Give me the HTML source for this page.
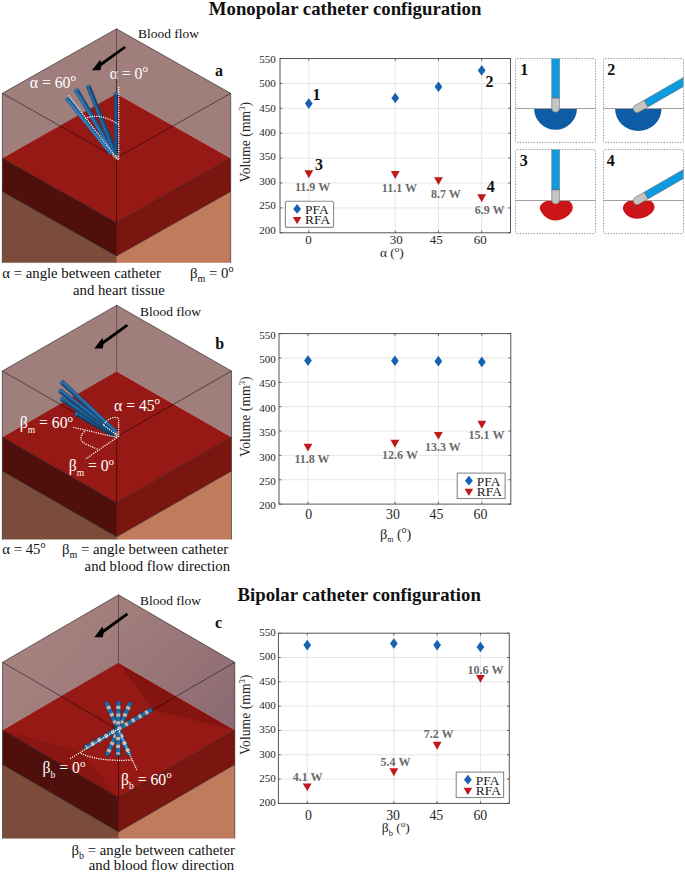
<!DOCTYPE html>
<html><head><meta charset="utf-8"><style>
html,body{margin:0;padding:0;background:#fff;}
body{width:685px;height:874px;overflow:hidden;}
svg{display:block;font-family:"Liberation Serif", serif;}
</style></head><body>
<svg width="685" height="874" viewBox="0 0 685 874">

<text x="345.1" y="15.1" font-size="18.8" fill="#111" font-weight="bold" text-anchor="middle" >Monopolar catheter configuration</text>
<text x="359.2" y="600.7" font-size="18.8" fill="#111" font-weight="bold" text-anchor="middle" >Bipolar catheter configuration</text>
<polygon points="116.5,28.8 2.3,93.3 2.3,158.3 117.5,94.3 117.5,29.8" fill="#a07e7c"/>
<polygon points="116.5,28.8 230.7,93.3 230.7,158.3 116.5,93.8" fill="#a07e7c"/>
<polygon points="116.5,93.8 2.3,158.3 116.5,222.8 230.7,158.3" fill="#961915"/>

<polygon points="2.3,158.3 116.5,222.8 117.5,222.8 117.5,256.0 116.5,256.0 2.3,191.5" fill="#4f100d"/>
<polygon points="230.7,158.3 116.5,222.8 116.5,256.0 230.7,191.5" fill="#7a1510"/>
<polygon points="2.3,191.5 116.5,256.0 117.5,256.0 117.5,262.8 2.3,262.8" fill="#7b4c3a"/>
<polygon points="230.7,191.5 116.5,256.0 116.5,262.8 230.7,262.8" fill="#c07b5c"/>
<polyline points="2.3,262.8 2.3,93.3 116.5,28.8 230.7,93.3 230.7,262.8" stroke="#000" stroke-opacity="0.62" stroke-width="0.8" fill="none"/>
<polyline points="2.3,93.3 116.5,157.8 230.7,93.3" stroke="#000" stroke-opacity="0.62" stroke-width="0.8" fill="none"/>
<line x1="116.5" y1="28.8" x2="116.5" y2="93.8" stroke="#000" stroke-opacity="0.45" stroke-width="0.8"/>
<line x1="116.5" y1="157.8" x2="116.5" y2="222.8" stroke="#000" stroke-opacity="0.62" stroke-width="0.8" fill="none"/>
<polyline points="2.3,158.3 116.5,222.8 230.7,158.3" stroke="#000" stroke-opacity="0.62" stroke-width="0.8" fill="none"/>
<polyline points="2.3,191.5 116.5,256.0 230.7,191.5" stroke="#000" stroke-opacity="0.62" stroke-width="0.8" fill="none"/>
<polygon points="111.5,151.5 118,151.5 118.5,158.5 115.5,159.5 112,155.5" fill="#8a7c79"/>
<line x1="67.5" y1="98.9" x2="111.6" y2="153.6" stroke="#1b5282" stroke-width="4.7" stroke-linecap="butt"/><line x1="67.06" y1="99.25" x2="111.16" y2="153.95" stroke="#2a70aa" stroke-width="2.91"/><line x1="66.70" y1="99.55" x2="110.80" y2="154.25" stroke="#3c8ac6" stroke-width="1.03"/><ellipse cx="67.50" cy="98.90" rx="1.32" ry="2.35" transform="rotate(51.1 67.50 98.90)" fill="#2a78b6" stroke="#1b5282" stroke-width="0.5"/>
<line x1="76.6" y1="90.2" x2="113.0" y2="152.0" stroke="#184b78" stroke-width="4.7" stroke-linecap="butt"/><line x1="76.11" y1="90.49" x2="112.51" y2="152.29" stroke="#2467a0" stroke-width="2.91"/><line x1="75.71" y1="90.72" x2="112.11" y2="152.52" stroke="#3580bd" stroke-width="1.03"/><ellipse cx="76.60" cy="90.20" rx="1.32" ry="2.35" transform="rotate(59.5 76.60 90.20)" fill="#2a78b6" stroke="#184b78" stroke-width="0.5"/>
<line x1="88.5" y1="86.6" x2="114.8" y2="152.0" stroke="#15426b" stroke-width="4.7" stroke-linecap="butt"/><line x1="87.98" y1="86.81" x2="114.28" y2="152.21" stroke="#1f5c92" stroke-width="2.91"/><line x1="87.54" y1="86.99" x2="113.84" y2="152.39" stroke="#2a70aa" stroke-width="1.03"/><ellipse cx="88.50" cy="86.60" rx="1.32" ry="2.35" transform="rotate(68.1 88.50 86.60)" fill="#2a78b6" stroke="#15426b" stroke-width="0.5"/>
<line x1="116.2" y1="93.6" x2="116.2" y2="154.8" stroke="#143a5e" stroke-width="4.2" stroke-linecap="butt"/><line x1="115.70" y1="93.60" x2="115.70" y2="154.80" stroke="#1c4c7a" stroke-width="2.60"/><line x1="115.28" y1="93.60" x2="115.28" y2="154.80" stroke="#235c90" stroke-width="0.92"/><ellipse cx="116.20" cy="93.60" rx="1.18" ry="2.10" transform="rotate(90.0 116.20 93.60)" fill="#2a8fd6" stroke="#143a5e" stroke-width="0.5"/>
<line x1="118.7" y1="86.7" x2="118.7" y2="160" stroke="#fff" stroke-width="1.25" stroke-dasharray="1.2 1.1" fill="none"/>
<line x1="68.4" y1="95.4" x2="118.2" y2="160" stroke="#fff" stroke-width="1.25" stroke-dasharray="1.2 1.1" fill="none"/>
<path d="M85,118.5 Q100,112 118.5,124.5" stroke="#fff" stroke-width="1.25" stroke-dasharray="1.2 1.1" fill="none"/>
<text x="29.8" y="87.6" font-size="15.7" fill="#fff" font-weight="normal" text-anchor="start" >α = 60<tspan font-size="11" dy="-6.5">o</tspan></text>
<text x="109.7" y="78.5" font-size="15.7" fill="#fff" font-weight="normal" text-anchor="start" >α = 0<tspan font-size="11" dy="-6.5">o</tspan></text>
<line x1="116.5" y1="60" x2="116.5" y2="93" stroke="#000" stroke-opacity="0.45" stroke-width="0.8"/>
<polygon points="92.00,70.30 100.20,59.70 101.00,62.60 124.30,45.90 125.90,48.10 101.30,66.00 100.50,70.30" fill="#000"/>
<text x="138" y="38.0" font-size="13.45" fill="#111" font-weight="normal" text-anchor="start" >Blood flow</text>
<text x="215.0" y="75.8" font-size="16" fill="#111" font-weight="bold" text-anchor="start" >a</text>
<text x="2.3" y="277.5" font-size="14.75" fill="#111" font-weight="normal" text-anchor="start" >α = angle between catheter</text>
<text x="73.0" y="294.5" font-size="14.75" fill="#111" font-weight="normal" text-anchor="start" >and heart tissue</text>
<text x="190.0" y="277.5" font-size="14.75" fill="#111" font-weight="normal" text-anchor="start" >β<tspan font-size="10" dy="4">m</tspan><tspan dy="-4"> = 0</tspan><tspan font-size="10" dy="-6">o</tspan></text>
<polygon points="116.7,305.2 2.3,371.0 2.3,437.2 117.7,371.9 117.7,306.2" fill="#a07e7c"/>
<polygon points="116.7,305.2 231.5,371.0 231.5,437.2 116.7,371.4" fill="#a07e7c"/>
<polygon points="116.7,371.4 2.3,437.2 116.7,502.99999999999994 231.5,437.2" fill="#961915"/>

<polygon points="2.3,437.2 116.7,502.99999999999994 117.7,502.99999999999994 117.7,536.8 116.7,536.8 2.3,471.0" fill="#4f100d"/>
<polygon points="231.5,437.2 116.7,502.99999999999994 116.7,536.8 231.5,471.0" fill="#7a1510"/>
<polygon points="2.3,471.0 116.7,536.8 117.7,536.8 117.7,539.6 2.3,539.6" fill="#7b4c3a"/>
<polygon points="231.5,471.0 116.7,536.8 116.7,539.6 231.5,539.6" fill="#c07b5c"/>
<polyline points="2.3,539.6 2.3,371.0 116.7,305.2 231.5,371.0 231.5,539.6" stroke="#000" stroke-opacity="0.62" stroke-width="0.8" fill="none"/>
<polyline points="2.3,371.0 116.7,436.79999999999995 231.5,371.0" stroke="#000" stroke-opacity="0.62" stroke-width="0.8" fill="none"/>
<line x1="116.7" y1="305.2" x2="116.7" y2="371.4" stroke="#000" stroke-opacity="0.45" stroke-width="0.8"/>
<line x1="116.7" y1="436.79999999999995" x2="116.7" y2="502.99999999999994" stroke="#000" stroke-opacity="0.62" stroke-width="0.8" fill="none"/>
<polyline points="2.3,437.2 116.7,502.99999999999994 231.5,437.2" stroke="#000" stroke-opacity="0.62" stroke-width="0.8" fill="none"/>
<polyline points="2.3,471.0 116.7,536.8 231.5,471.0" stroke="#000" stroke-opacity="0.62" stroke-width="0.8" fill="none"/>
<line x1="76.3" y1="413.6" x2="114.5" y2="435.5" stroke="#123a5e" stroke-width="4.7" stroke-linecap="butt"/><line x1="76.58" y1="413.11" x2="114.78" y2="435.01" stroke="#1b5486" stroke-width="2.91"/><line x1="76.81" y1="412.70" x2="115.01" y2="434.60" stroke="#25679f" stroke-width="1.03"/><ellipse cx="76.30" cy="413.60" rx="1.32" ry="2.35" transform="rotate(29.8 76.30 413.60)" fill="#2a78b6" stroke="#123a5e" stroke-width="0.5"/>
<line x1="61.8" y1="398.9" x2="115.0" y2="434.5" stroke="#143f66" stroke-width="4.7" stroke-linecap="butt"/><line x1="62.11" y1="398.43" x2="115.31" y2="434.03" stroke="#1f5c92" stroke-width="2.91"/><line x1="62.38" y1="398.04" x2="115.58" y2="433.64" stroke="#2b70aa" stroke-width="1.03"/><ellipse cx="61.80" cy="398.90" rx="1.32" ry="2.35" transform="rotate(33.8 61.80 398.90)" fill="#2a78b6" stroke="#143f66" stroke-width="0.5"/>
<line x1="60.2" y1="390.8" x2="115.5" y2="433.5" stroke="#15426b" stroke-width="4.7" stroke-linecap="butt"/><line x1="60.54" y1="390.35" x2="115.84" y2="433.05" stroke="#20609a" stroke-width="2.91"/><line x1="60.83" y1="389.98" x2="116.13" y2="432.68" stroke="#2d76b2" stroke-width="1.03"/><ellipse cx="60.20" cy="390.80" rx="1.32" ry="2.35" transform="rotate(37.7 60.20 390.80)" fill="#2a78b6" stroke="#15426b" stroke-width="0.5"/>
<line x1="62.1" y1="382.3" x2="116.0" y2="432.5" stroke="#16456f" stroke-width="4.7" stroke-linecap="butt"/><line x1="62.48" y1="381.89" x2="116.38" y2="432.09" stroke="#22649e" stroke-width="2.91"/><line x1="62.80" y1="381.54" x2="116.70" y2="431.74" stroke="#317bb8" stroke-width="1.03"/><ellipse cx="62.10" cy="382.30" rx="1.32" ry="2.35" transform="rotate(43.0 62.10 382.30)" fill="#2a78b6" stroke="#16456f" stroke-width="0.5"/>
<polygon points="113.5,433 117.5,432 118.5,437 116,438.5" fill="#8a7c79"/>
<line x1="118.6" y1="437" x2="118.6" y2="417.9" stroke="#fff" stroke-width="1.25" stroke-dasharray="1.2 1.1" fill="none"/>
<path d="M103.4,425 Q110,415.5 118.6,418" stroke="#fff" stroke-width="1.25" stroke-dasharray="1.2 1.1" fill="none"/>
<line x1="103.6" y1="425.2" x2="117.2" y2="435.2" stroke="#fff" stroke-width="1.25" stroke-dasharray="1.2 1.1" fill="none"/>
<line x1="117" y1="437.5" x2="73" y2="427.2" stroke="#fff" stroke-width="1.25" stroke-dasharray="1.2 1.1" fill="none"/>
<line x1="117" y1="437.5" x2="85.9" y2="458.8" stroke="#fff" stroke-width="1.25" stroke-dasharray="1.2 1.1" fill="none"/>
<path d="M84.7,431.2 Q76,440 87.1,444.7 T97.6,449.4" stroke="#fff" stroke-width="1.25" stroke-dasharray="1.2 1.1" fill="none"/>
<text x="19.8" y="428.0" font-size="15.7" fill="#fff" font-weight="normal" text-anchor="start" >β<tspan font-size="9.5" dy="4.5">m</tspan><tspan dy="-4.5"> = 60</tspan><tspan font-size="11" dy="-6.5">o</tspan></text>
<text x="114.0" y="410.6" font-size="15.7" fill="#fff" font-weight="normal" text-anchor="start" >α = 45<tspan font-size="11" dy="-6.5">o</tspan></text>
<text x="68.7" y="471.1" font-size="15.7" fill="#fff" font-weight="normal" text-anchor="start" >β<tspan font-size="9.5" dy="4.5">m</tspan><tspan dy="-4.5"> = 0</tspan><tspan font-size="11" dy="-6.5">o</tspan></text>
<polygon points="94.20,348.50 102.40,337.90 103.20,340.80 126.50,324.10 128.10,326.30 103.50,344.20 102.70,348.50" fill="#000"/>
<text x="140" y="316.4" font-size="13.45" fill="#111" font-weight="normal" text-anchor="start" >Blood flow</text>
<text x="215.2" y="348.8" font-size="16" fill="#111" font-weight="bold" text-anchor="start" >b</text>
<text x="2.3" y="554.3" font-size="14.75" fill="#111" font-weight="normal" text-anchor="start" >α = 45<tspan font-size="10" dy="-6">o</tspan></text>
<text x="62.0" y="554.3" font-size="14.75" fill="#111" font-weight="normal" text-anchor="start" >β<tspan font-size="10" dy="4">m</tspan><tspan dy="-4"> = angle between catheter</tspan></text>
<text x="84.6" y="571" font-size="14.75" fill="#111" font-weight="normal" text-anchor="start" >and blood flow direction</text>
<defs><linearGradient id="gcl" gradientUnits="userSpaceOnUse" x1="10" y1="640" x2="110" y2="720"><stop offset="0" stop-color="#a6827f"/><stop offset="1" stop-color="#9c787a"/></linearGradient><linearGradient id="gcr" gradientUnits="userSpaceOnUse" x1="130" y1="620" x2="230" y2="730"><stop offset="0" stop-color="#a07c7b"/><stop offset="1" stop-color="#8c6972"/></linearGradient></defs>
<polygon points="118.5,594.8 2.5,662.3 2.5,730.3 119.5,663.3 119.5,595.8" fill="url(#gcl)"/>
<polygon points="118.5,594.8 234.8,662.3 234.8,730.3 118.5,662.8" fill="url(#gcr)"/>
<polygon points="118.5,662.8 2.5,730.3 118.5,797.8 234.8,730.3" fill="#961915"/>
<polygon points="118.5,663.2 153.7,710 234.8,730.3" fill="#6e100c" opacity="0.45"/><polygon points="2.5,730.3 81.6,752.3 118.5,797.8" fill="#6e100c" opacity="0.3"/>
<polygon points="2.5,730.3 118.5,797.8 119.5,797.8 119.5,832.0 118.5,832.0 2.5,764.5" fill="#4f100d"/>
<polygon points="234.8,730.3 118.5,797.8 118.5,832.0 234.8,764.5" fill="#7a1510"/>
<polygon points="2.5,764.5 118.5,832.0 119.5,832.0 119.5,838.6 2.5,838.6" fill="#7b4c3a"/>
<polygon points="234.8,764.5 118.5,832.0 118.5,838.6 234.8,838.6" fill="#c07b5c"/>
<polyline points="2.5,838.6 2.5,662.3 118.5,594.8 234.8,662.3 234.8,838.6" stroke="#000" stroke-opacity="0.62" stroke-width="0.8" fill="none"/>
<polyline points="2.5,662.3 118.5,729.8 234.8,662.3" stroke="#000" stroke-opacity="0.62" stroke-width="0.8" fill="none"/>
<line x1="118.5" y1="594.8" x2="118.5" y2="662.8" stroke="#000" stroke-opacity="0.45" stroke-width="0.8"/>
<line x1="118.5" y1="729.8" x2="118.5" y2="797.8" stroke="#000" stroke-opacity="0.62" stroke-width="0.8" fill="none"/>
<polyline points="2.5,730.3 118.5,797.8 234.8,730.3" stroke="#000" stroke-opacity="0.62" stroke-width="0.8" fill="none"/>
<polyline points="2.5,764.5 118.5,832.0 234.8,764.5" stroke="#000" stroke-opacity="0.62" stroke-width="0.8" fill="none"/>
<line x1="106.93" y1="703.70" x2="128.97" y2="753.40" stroke="#123d60" stroke-width="4.90" stroke-linecap="round"/><line x1="106.93" y1="703.70" x2="128.97" y2="753.40" stroke="#1f6aa4" stroke-width="4.00" stroke-linecap="round"/><line x1="106.93" y1="703.70" x2="128.97" y2="753.40" stroke="#cbaea6" stroke-width="4.10" stroke-dasharray="3.2 4.6" stroke-dashoffset="5.2"/>
<line x1="129.86" y1="704.00" x2="107.54" y2="753.70" stroke="#123d60" stroke-width="4.90" stroke-linecap="round"/><line x1="129.86" y1="704.00" x2="107.54" y2="753.70" stroke="#1f6aa4" stroke-width="4.00" stroke-linecap="round"/><line x1="129.86" y1="704.00" x2="107.54" y2="753.70" stroke="#cbaea6" stroke-width="4.10" stroke-dasharray="3.2 4.6" stroke-dashoffset="5.2"/>
<line x1="118.39" y1="703.10" x2="118.11" y2="754.30" stroke="#123d60" stroke-width="4.90" stroke-linecap="round"/><line x1="118.39" y1="703.10" x2="118.11" y2="754.30" stroke="#1f6aa4" stroke-width="4.00" stroke-linecap="round"/><line x1="118.39" y1="703.10" x2="118.11" y2="754.30" stroke="#cbaea6" stroke-width="4.10" stroke-dasharray="3.2 4.6" stroke-dashoffset="5.2"/>
<line x1="150.31" y1="710.45" x2="86.09" y2="747.45" stroke="#123d60" stroke-width="4.90" stroke-linecap="round"/><line x1="150.31" y1="710.45" x2="86.09" y2="747.45" stroke="#1f6aa4" stroke-width="4.00" stroke-linecap="round"/><line x1="150.31" y1="710.45" x2="86.09" y2="747.45" stroke="#cbaea6" stroke-width="4.10" stroke-dasharray="3.2 4.6" stroke-dashoffset="5.2"/>
<line x1="118" y1="729" x2="69.6" y2="759" stroke="#fff" stroke-width="1.25" stroke-dasharray="1.2 1.1" fill="none"/>
<line x1="118" y1="729" x2="137.1" y2="770.3" stroke="#fff" stroke-width="1.25" stroke-dasharray="1.2 1.1" fill="none"/>
<path d="M80.9,753.4 Q100,762 132.3,759.9" stroke="#fff" stroke-width="1.25" stroke-dasharray="1.2 1.1" fill="none"/>
<text x="42.6" y="773.0" font-size="15.7" fill="#fff" font-weight="normal" text-anchor="start" >β<tspan font-size="9.5" dy="4.5">b</tspan><tspan dy="-4.5"> = 0</tspan><tspan font-size="11" dy="-6.5">o</tspan></text>
<text x="121.0" y="784.6" font-size="15.7" fill="#fff" font-weight="normal" text-anchor="start" >β<tspan font-size="9.5" dy="4.5">b</tspan><tspan dy="-4.5"> = 60</tspan><tspan font-size="11" dy="-6.5">o</tspan></text>
<polygon points="94.30,637.20 102.50,626.60 103.30,629.50 126.60,612.80 128.20,615.00 103.60,632.90 102.80,637.20" fill="#000"/>
<text x="140" y="605.0" font-size="13.45" fill="#111" font-weight="normal" text-anchor="start" >Blood flow</text>
<text x="215.0" y="627.6" font-size="16" fill="#111" font-weight="bold" text-anchor="start" >c</text>
<text x="71.5" y="854.5" font-size="14.75" fill="#111" font-weight="normal" text-anchor="start" >β<tspan font-size="10" dy="4">b</tspan><tspan dy="-4"> = angle between catheter</tspan></text>
<text x="88.8" y="870.3" font-size="14.75" fill="#111" font-weight="normal" text-anchor="start" >and blood flow direction</text>
<line x1="280" y1="207.90" x2="510.5" y2="207.90" stroke="#e6e6e6" stroke-width="1"/>
<line x1="280" y1="183.00" x2="510.5" y2="183.00" stroke="#e6e6e6" stroke-width="1"/>
<line x1="280" y1="158.10" x2="510.5" y2="158.10" stroke="#e6e6e6" stroke-width="1"/>
<line x1="280" y1="133.20" x2="510.5" y2="133.20" stroke="#e6e6e6" stroke-width="1"/>
<line x1="280" y1="108.30" x2="510.5" y2="108.30" stroke="#e6e6e6" stroke-width="1"/>
<line x1="280" y1="83.40" x2="510.5" y2="83.40" stroke="#e6e6e6" stroke-width="1"/>
<line x1="308.81" y1="58.5" x2="308.81" y2="232.8" stroke="#e6e6e6" stroke-width="1"/>
<line x1="395.25" y1="58.5" x2="395.25" y2="232.8" stroke="#e6e6e6" stroke-width="1"/>
<line x1="438.47" y1="58.5" x2="438.47" y2="232.8" stroke="#e6e6e6" stroke-width="1"/>
<line x1="481.69" y1="58.5" x2="481.69" y2="232.8" stroke="#e6e6e6" stroke-width="1"/>
<rect x="280" y="58.5" width="230.50" height="174.30" fill="none" stroke="#555" stroke-width="1"/>
<line x1="280" y1="232.80" x2="282.3" y2="232.80" stroke="#444" stroke-width="0.8"/>
<line x1="510.5" y1="232.80" x2="508.2" y2="232.80" stroke="#444" stroke-width="0.8"/>
<text x="275.75" y="233.55" font-size="11" fill="#262626" font-weight="normal" text-anchor="end" >200</text>
<line x1="280" y1="207.90" x2="282.3" y2="207.90" stroke="#444" stroke-width="0.8"/>
<line x1="510.5" y1="207.90" x2="508.2" y2="207.90" stroke="#444" stroke-width="0.8"/>
<text x="275.75" y="209.15" font-size="11" fill="#262626" font-weight="normal" text-anchor="end" >250</text>
<line x1="280" y1="183.00" x2="282.3" y2="183.00" stroke="#444" stroke-width="0.8"/>
<line x1="510.5" y1="183.00" x2="508.2" y2="183.00" stroke="#444" stroke-width="0.8"/>
<text x="275.75" y="184.75" font-size="11" fill="#262626" font-weight="normal" text-anchor="end" >300</text>
<line x1="280" y1="158.10" x2="282.3" y2="158.10" stroke="#444" stroke-width="0.8"/>
<line x1="510.5" y1="158.10" x2="508.2" y2="158.10" stroke="#444" stroke-width="0.8"/>
<text x="275.75" y="160.35" font-size="11" fill="#262626" font-weight="normal" text-anchor="end" >350</text>
<line x1="280" y1="133.20" x2="282.3" y2="133.20" stroke="#444" stroke-width="0.8"/>
<line x1="510.5" y1="133.20" x2="508.2" y2="133.20" stroke="#444" stroke-width="0.8"/>
<text x="275.75" y="135.95" font-size="11" fill="#262626" font-weight="normal" text-anchor="end" >400</text>
<line x1="280" y1="108.30" x2="282.3" y2="108.30" stroke="#444" stroke-width="0.8"/>
<line x1="510.5" y1="108.30" x2="508.2" y2="108.30" stroke="#444" stroke-width="0.8"/>
<text x="275.75" y="111.55" font-size="11" fill="#262626" font-weight="normal" text-anchor="end" >450</text>
<line x1="280" y1="83.40" x2="282.3" y2="83.40" stroke="#444" stroke-width="0.8"/>
<line x1="510.5" y1="83.40" x2="508.2" y2="83.40" stroke="#444" stroke-width="0.8"/>
<text x="275.75" y="87.15" font-size="11" fill="#262626" font-weight="normal" text-anchor="end" >500</text>
<line x1="280" y1="58.50" x2="282.3" y2="58.50" stroke="#444" stroke-width="0.8"/>
<line x1="510.5" y1="58.50" x2="508.2" y2="58.50" stroke="#444" stroke-width="0.8"/>
<text x="275.75" y="62.75" font-size="11" fill="#262626" font-weight="normal" text-anchor="end" >550</text>
<line x1="308.81" y1="232.8" x2="308.81" y2="230.5" stroke="#444" stroke-width="0.8"/>
<line x1="308.81" y1="58.5" x2="308.81" y2="60.8" stroke="#444" stroke-width="0.8"/>
<text x="308.60" y="244.20" font-size="13" fill="#262626" font-weight="normal" text-anchor="middle" >0</text>
<line x1="395.25" y1="232.8" x2="395.25" y2="230.5" stroke="#444" stroke-width="0.8"/>
<line x1="395.25" y1="58.5" x2="395.25" y2="60.8" stroke="#444" stroke-width="0.8"/>
<text x="396.20" y="244.20" font-size="13" fill="#262626" font-weight="normal" text-anchor="middle" >30</text>
<line x1="438.47" y1="232.8" x2="438.47" y2="230.5" stroke="#444" stroke-width="0.8"/>
<line x1="438.47" y1="58.5" x2="438.47" y2="60.8" stroke="#444" stroke-width="0.8"/>
<text x="436.20" y="244.20" font-size="13" fill="#262626" font-weight="normal" text-anchor="middle" >45</text>
<line x1="481.69" y1="232.8" x2="481.69" y2="230.5" stroke="#444" stroke-width="0.8"/>
<line x1="481.69" y1="58.5" x2="481.69" y2="60.8" stroke="#444" stroke-width="0.8"/>
<text x="480.30" y="244.20" font-size="13" fill="#262626" font-weight="normal" text-anchor="middle" >60</text>
<text transform="translate(249.8,142.2) rotate(-90)" font-size="13.7" fill="#262626" text-anchor="middle">Volume (mm<tspan font-size="8.5" dy="-5">3</tspan><tspan dy="5">)</tspan></text>
<text x="379.9" y="256.6" font-size="13.5" fill="#262626" font-weight="normal" text-anchor="start" >α (<tspan font-size="9" dy="-5">o</tspan><tspan dy="5">)</tspan></text>
<polygon points="308.81,98.32 312.66,103.62 308.81,108.92 304.96,103.62" fill="#1662b0"/>
<polygon points="395.25,92.74 399.10,98.04 395.25,103.34 391.40,98.04" fill="#1662b0"/>
<polygon points="438.47,81.39 442.32,86.69 438.47,91.99 434.62,86.69" fill="#1662b0"/>
<polygon points="481.69,65.10 485.54,70.40 481.69,75.70 477.84,70.40" fill="#1662b0"/>
<polygon points="304.41,170.34 313.21,170.34 308.81,178.24" fill="#c0191c"/>
<polygon points="390.85,171.08 399.65,171.08 395.25,178.98" fill="#c0191c"/>
<polygon points="434.07,177.16 442.87,177.16 438.47,185.06" fill="#c0191c"/>
<polygon points="477.29,194.29 486.09,194.29 481.69,202.19" fill="#c0191c"/>
<text x="312.6" y="191.1" font-size="12" fill="#6b6b6b" font-weight="bold" text-anchor="middle" >11.9 W</text>
<text x="399.4" y="192.0" font-size="12" fill="#6b6b6b" font-weight="bold" text-anchor="middle" >11.1 W</text>
<text x="445.9" y="197.9" font-size="12" fill="#6b6b6b" font-weight="bold" text-anchor="middle" >8.7 W</text>
<text x="489.6" y="214.1" font-size="12" fill="#6b6b6b" font-weight="bold" text-anchor="middle" >6.9 W</text>
<text x="312.5" y="100.4" font-size="16" fill="#111" font-weight="bold" text-anchor="start" >1</text>
<text x="485.6" y="86.8" font-size="16" fill="#111" font-weight="bold" text-anchor="start" >2</text>
<text x="314.9" y="169.9" font-size="16" fill="#111" font-weight="bold" text-anchor="start" >3</text>
<text x="486.8" y="191.6" font-size="16" fill="#111" font-weight="bold" text-anchor="start" >4</text>
<rect x="285.4" y="201.3" width="48.2" height="26.1" rx="2" fill="#fff" stroke="#8a8a8a" stroke-width="1.1"/>
<polygon points="297.10,204.00 301.00,208.90 297.10,213.80 293.20,208.90" fill="#1662b0"/>
<polygon points="292.80,217.00 301.40,217.00 297.10,224.20" fill="#c0191c"/>
<text x="305.00" y="213.80" font-size="13.4" fill="#1a1a1a" font-weight="normal" text-anchor="start" >PFA</text>
<text x="305.00" y="224.40" font-size="13.4" fill="#1a1a1a" font-weight="normal" text-anchor="start" >RFA</text>
<line x1="279" y1="479.74" x2="510.8" y2="479.74" stroke="#e6e6e6" stroke-width="1"/>
<line x1="279" y1="455.39" x2="510.8" y2="455.39" stroke="#e6e6e6" stroke-width="1"/>
<line x1="279" y1="431.03" x2="510.8" y2="431.03" stroke="#e6e6e6" stroke-width="1"/>
<line x1="279" y1="406.67" x2="510.8" y2="406.67" stroke="#e6e6e6" stroke-width="1"/>
<line x1="279" y1="382.31" x2="510.8" y2="382.31" stroke="#e6e6e6" stroke-width="1"/>
<line x1="279" y1="357.96" x2="510.8" y2="357.96" stroke="#e6e6e6" stroke-width="1"/>
<line x1="307.98" y1="333.6" x2="307.98" y2="504.1" stroke="#e6e6e6" stroke-width="1"/>
<line x1="394.90" y1="333.6" x2="394.90" y2="504.1" stroke="#e6e6e6" stroke-width="1"/>
<line x1="438.36" y1="333.6" x2="438.36" y2="504.1" stroke="#e6e6e6" stroke-width="1"/>
<line x1="481.83" y1="333.6" x2="481.83" y2="504.1" stroke="#e6e6e6" stroke-width="1"/>
<rect x="279" y="333.6" width="231.80" height="170.50" fill="none" stroke="#555" stroke-width="1"/>
<line x1="279" y1="504.10" x2="281.3" y2="504.10" stroke="#444" stroke-width="0.8"/>
<line x1="510.8" y1="504.10" x2="508.5" y2="504.10" stroke="#444" stroke-width="0.8"/>
<text x="275.75" y="509.25" font-size="11" fill="#262626" font-weight="normal" text-anchor="end" >200</text>
<line x1="279" y1="479.74" x2="281.3" y2="479.74" stroke="#444" stroke-width="0.8"/>
<line x1="510.8" y1="479.74" x2="508.5" y2="479.74" stroke="#444" stroke-width="0.8"/>
<text x="275.75" y="484.89" font-size="11" fill="#262626" font-weight="normal" text-anchor="end" >250</text>
<line x1="279" y1="455.39" x2="281.3" y2="455.39" stroke="#444" stroke-width="0.8"/>
<line x1="510.8" y1="455.39" x2="508.5" y2="455.39" stroke="#444" stroke-width="0.8"/>
<text x="275.75" y="460.54" font-size="11" fill="#262626" font-weight="normal" text-anchor="end" >300</text>
<line x1="279" y1="431.03" x2="281.3" y2="431.03" stroke="#444" stroke-width="0.8"/>
<line x1="510.8" y1="431.03" x2="508.5" y2="431.03" stroke="#444" stroke-width="0.8"/>
<text x="275.75" y="436.18" font-size="11" fill="#262626" font-weight="normal" text-anchor="end" >350</text>
<line x1="279" y1="406.67" x2="281.3" y2="406.67" stroke="#444" stroke-width="0.8"/>
<line x1="510.8" y1="406.67" x2="508.5" y2="406.67" stroke="#444" stroke-width="0.8"/>
<text x="275.75" y="411.82" font-size="11" fill="#262626" font-weight="normal" text-anchor="end" >400</text>
<line x1="279" y1="382.31" x2="281.3" y2="382.31" stroke="#444" stroke-width="0.8"/>
<line x1="510.8" y1="382.31" x2="508.5" y2="382.31" stroke="#444" stroke-width="0.8"/>
<text x="275.75" y="387.46" font-size="11" fill="#262626" font-weight="normal" text-anchor="end" >450</text>
<line x1="279" y1="357.96" x2="281.3" y2="357.96" stroke="#444" stroke-width="0.8"/>
<line x1="510.8" y1="357.96" x2="508.5" y2="357.96" stroke="#444" stroke-width="0.8"/>
<text x="275.75" y="363.11" font-size="11" fill="#262626" font-weight="normal" text-anchor="end" >500</text>
<line x1="279" y1="333.60" x2="281.3" y2="333.60" stroke="#444" stroke-width="0.8"/>
<line x1="510.8" y1="333.60" x2="508.5" y2="333.60" stroke="#444" stroke-width="0.8"/>
<text x="275.75" y="338.75" font-size="11" fill="#262626" font-weight="normal" text-anchor="end" >550</text>
<line x1="307.98" y1="504.1" x2="307.98" y2="501.8" stroke="#444" stroke-width="0.8"/>
<line x1="307.98" y1="333.6" x2="307.98" y2="335.90000000000003" stroke="#444" stroke-width="0.8"/>
<text x="308.60" y="518.60" font-size="13.8" fill="#262626" font-weight="normal" text-anchor="middle" >0</text>
<line x1="394.90" y1="504.1" x2="394.90" y2="501.8" stroke="#444" stroke-width="0.8"/>
<line x1="394.90" y1="333.6" x2="394.90" y2="335.90000000000003" stroke="#444" stroke-width="0.8"/>
<text x="393.00" y="518.60" font-size="13.8" fill="#262626" font-weight="normal" text-anchor="middle" >30</text>
<line x1="438.36" y1="504.1" x2="438.36" y2="501.8" stroke="#444" stroke-width="0.8"/>
<line x1="438.36" y1="333.6" x2="438.36" y2="335.90000000000003" stroke="#444" stroke-width="0.8"/>
<text x="436.50" y="518.60" font-size="13.8" fill="#262626" font-weight="normal" text-anchor="middle" >45</text>
<line x1="481.83" y1="504.1" x2="481.83" y2="501.8" stroke="#444" stroke-width="0.8"/>
<line x1="481.83" y1="333.6" x2="481.83" y2="335.90000000000003" stroke="#444" stroke-width="0.8"/>
<text x="480.50" y="518.60" font-size="13.8" fill="#262626" font-weight="normal" text-anchor="middle" >60</text>
<text transform="translate(249.8,416.7) rotate(-90)" font-size="13.7" fill="#262626" text-anchor="middle">Volume (mm<tspan font-size="8.5" dy="-5">3</tspan><tspan dy="5">)</tspan></text>
<text x="379.9" y="538.8" font-size="14.3" fill="#262626" font-weight="normal" text-anchor="start" >β<tspan font-size="8" dy="3.5">m</tspan><tspan dy="-3.5"> (</tspan><tspan font-size="9.5" dy="-5.5">o</tspan><tspan dy="5.5">)</tspan></text>
<polygon points="307.98,355.29 311.83,360.59 307.98,365.89 304.12,360.59" fill="#1662b0"/>
<polygon points="394.90,355.48 398.75,360.78 394.90,366.08 391.05,360.78" fill="#1662b0"/>
<polygon points="438.36,355.87 442.21,361.17 438.36,366.47 434.51,361.17" fill="#1662b0"/>
<polygon points="481.83,356.60 485.68,361.90 481.83,367.20 477.98,361.90" fill="#1662b0"/>
<polygon points="303.58,443.64 312.38,443.64 307.98,451.54" fill="#c0191c"/>
<polygon points="390.50,439.74 399.30,439.74 394.90,447.64" fill="#c0191c"/>
<polygon points="433.96,431.95 442.76,431.95 438.36,439.85" fill="#c0191c"/>
<polygon points="477.43,420.75 486.23,420.75 481.83,428.65" fill="#c0191c"/>
<text x="312" y="462.6" font-size="12" fill="#6b6b6b" font-weight="bold" text-anchor="middle" >11.8 W</text>
<text x="400" y="459.4" font-size="12" fill="#6b6b6b" font-weight="bold" text-anchor="middle" >12.6 W</text>
<text x="442.9" y="450.7" font-size="12" fill="#6b6b6b" font-weight="bold" text-anchor="middle" >13.3 W</text>
<text x="486.5" y="438.5" font-size="12" fill="#6b6b6b" font-weight="bold" text-anchor="middle" >15.1 W</text>
<rect x="457.2" y="473.1" width="47.9" height="25.4" rx="0" fill="#fff" stroke="#8a8a8a" stroke-width="1.1"/>
<polygon points="468.90,475.80 472.80,480.70 468.90,485.60 465.00,480.70" fill="#1662b0"/>
<polygon points="464.60,488.80 473.20,488.80 468.90,496.00" fill="#c0191c"/>
<text x="476.80" y="485.60" font-size="13.4" fill="#1a1a1a" font-weight="normal" text-anchor="start" >PFA</text>
<text x="476.80" y="496.20" font-size="13.4" fill="#1a1a1a" font-weight="normal" text-anchor="start" >RFA</text>
<line x1="278.4" y1="779.09" x2="509.3" y2="779.09" stroke="#e6e6e6" stroke-width="1"/>
<line x1="278.4" y1="754.77" x2="509.3" y2="754.77" stroke="#e6e6e6" stroke-width="1"/>
<line x1="278.4" y1="730.46" x2="509.3" y2="730.46" stroke="#e6e6e6" stroke-width="1"/>
<line x1="278.4" y1="706.14" x2="509.3" y2="706.14" stroke="#e6e6e6" stroke-width="1"/>
<line x1="278.4" y1="681.83" x2="509.3" y2="681.83" stroke="#e6e6e6" stroke-width="1"/>
<line x1="278.4" y1="657.51" x2="509.3" y2="657.51" stroke="#e6e6e6" stroke-width="1"/>
<line x1="307.26" y1="633.2" x2="307.26" y2="803.4" stroke="#e6e6e6" stroke-width="1"/>
<line x1="393.85" y1="633.2" x2="393.85" y2="803.4" stroke="#e6e6e6" stroke-width="1"/>
<line x1="437.14" y1="633.2" x2="437.14" y2="803.4" stroke="#e6e6e6" stroke-width="1"/>
<line x1="480.44" y1="633.2" x2="480.44" y2="803.4" stroke="#e6e6e6" stroke-width="1"/>
<rect x="278.4" y="633.2" width="230.90" height="170.20" fill="none" stroke="#555" stroke-width="1"/>
<line x1="278.4" y1="803.40" x2="280.7" y2="803.40" stroke="#444" stroke-width="0.8"/>
<line x1="509.3" y1="803.40" x2="507.0" y2="803.40" stroke="#444" stroke-width="0.8"/>
<text x="275.75" y="806.15" font-size="11" fill="#262626" font-weight="normal" text-anchor="end" >200</text>
<line x1="278.4" y1="779.09" x2="280.7" y2="779.09" stroke="#444" stroke-width="0.8"/>
<line x1="509.3" y1="779.09" x2="507.0" y2="779.09" stroke="#444" stroke-width="0.8"/>
<text x="275.75" y="781.84" font-size="11" fill="#262626" font-weight="normal" text-anchor="end" >250</text>
<line x1="278.4" y1="754.77" x2="280.7" y2="754.77" stroke="#444" stroke-width="0.8"/>
<line x1="509.3" y1="754.77" x2="507.0" y2="754.77" stroke="#444" stroke-width="0.8"/>
<text x="275.75" y="757.52" font-size="11" fill="#262626" font-weight="normal" text-anchor="end" >300</text>
<line x1="278.4" y1="730.46" x2="280.7" y2="730.46" stroke="#444" stroke-width="0.8"/>
<line x1="509.3" y1="730.46" x2="507.0" y2="730.46" stroke="#444" stroke-width="0.8"/>
<text x="275.75" y="733.21" font-size="11" fill="#262626" font-weight="normal" text-anchor="end" >350</text>
<line x1="278.4" y1="706.14" x2="280.7" y2="706.14" stroke="#444" stroke-width="0.8"/>
<line x1="509.3" y1="706.14" x2="507.0" y2="706.14" stroke="#444" stroke-width="0.8"/>
<text x="275.75" y="708.89" font-size="11" fill="#262626" font-weight="normal" text-anchor="end" >400</text>
<line x1="278.4" y1="681.83" x2="280.7" y2="681.83" stroke="#444" stroke-width="0.8"/>
<line x1="509.3" y1="681.83" x2="507.0" y2="681.83" stroke="#444" stroke-width="0.8"/>
<text x="275.75" y="684.58" font-size="11" fill="#262626" font-weight="normal" text-anchor="end" >450</text>
<line x1="278.4" y1="657.51" x2="280.7" y2="657.51" stroke="#444" stroke-width="0.8"/>
<line x1="509.3" y1="657.51" x2="507.0" y2="657.51" stroke="#444" stroke-width="0.8"/>
<text x="275.75" y="660.26" font-size="11" fill="#262626" font-weight="normal" text-anchor="end" >500</text>
<line x1="278.4" y1="633.20" x2="280.7" y2="633.20" stroke="#444" stroke-width="0.8"/>
<line x1="509.3" y1="633.20" x2="507.0" y2="633.20" stroke="#444" stroke-width="0.8"/>
<text x="275.75" y="635.95" font-size="11" fill="#262626" font-weight="normal" text-anchor="end" >550</text>
<line x1="307.26" y1="803.4" x2="307.26" y2="801.1" stroke="#444" stroke-width="0.8"/>
<line x1="307.26" y1="633.2" x2="307.26" y2="635.5" stroke="#444" stroke-width="0.8"/>
<text x="308.35" y="819.60" font-size="13.8" fill="#262626" font-weight="normal" text-anchor="middle" >0</text>
<line x1="393.85" y1="803.4" x2="393.85" y2="801.1" stroke="#444" stroke-width="0.8"/>
<line x1="393.85" y1="633.2" x2="393.85" y2="635.5" stroke="#444" stroke-width="0.8"/>
<text x="393.10" y="819.60" font-size="13.8" fill="#262626" font-weight="normal" text-anchor="middle" >30</text>
<line x1="437.14" y1="803.4" x2="437.14" y2="801.1" stroke="#444" stroke-width="0.8"/>
<line x1="437.14" y1="633.2" x2="437.14" y2="635.5" stroke="#444" stroke-width="0.8"/>
<text x="436.30" y="819.60" font-size="13.8" fill="#262626" font-weight="normal" text-anchor="middle" >45</text>
<line x1="480.44" y1="803.4" x2="480.44" y2="801.1" stroke="#444" stroke-width="0.8"/>
<line x1="480.44" y1="633.2" x2="480.44" y2="635.5" stroke="#444" stroke-width="0.8"/>
<text x="480.30" y="819.60" font-size="13.8" fill="#262626" font-weight="normal" text-anchor="middle" >60</text>
<text transform="translate(249.8,714.8) rotate(-90)" font-size="13.7" fill="#262626" text-anchor="middle">Volume (mm<tspan font-size="8.5" dy="-5">3</tspan><tspan dy="5">)</tspan></text>
<text x="381.8" y="832.4" font-size="13.5" fill="#262626" font-weight="normal" text-anchor="start" >β<tspan font-size="8.5" dy="3.5">b</tspan><tspan dy="-3.5"> (</tspan><tspan font-size="9" dy="-5">o</tspan><tspan dy="5">)</tspan></text>
<polygon points="307.26,639.81 311.11,645.11 307.26,650.41 303.41,645.11" fill="#1662b0"/>
<polygon points="393.85,638.21 397.70,643.51 393.85,648.81 390.00,643.51" fill="#1662b0"/>
<polygon points="437.14,639.81 440.99,645.11 437.14,650.41 433.29,645.11" fill="#1662b0"/>
<polygon points="480.44,641.71 484.29,647.01 480.44,652.31 476.59,647.01" fill="#1662b0"/>
<polygon points="302.86,783.45 311.66,783.45 307.26,791.35" fill="#c0191c"/>
<polygon points="389.45,768.33 398.25,768.33 393.85,776.23" fill="#c0191c"/>
<polygon points="432.74,741.78 441.54,741.78 437.14,749.68" fill="#c0191c"/>
<polygon points="476.04,674.96 484.84,674.96 480.44,682.86" fill="#c0191c"/>
<text x="307.6" y="781" font-size="12" fill="#6b6b6b" font-weight="bold" text-anchor="middle" >4.1 W</text>
<text x="395.5" y="765.9" font-size="12" fill="#6b6b6b" font-weight="bold" text-anchor="middle" >5.4 W</text>
<text x="438.6" y="737.7" font-size="12" fill="#6b6b6b" font-weight="bold" text-anchor="middle" >7.2 W</text>
<text x="485.5" y="674" font-size="12" fill="#6b6b6b" font-weight="bold" text-anchor="middle" >10.6 W</text>
<rect x="456.2" y="772.1" width="47.4" height="25.4" rx="0" fill="#fff" stroke="#8a8a8a" stroke-width="1.1"/>
<polygon points="467.90,774.80 471.80,779.70 467.90,784.60 464.00,779.70" fill="#1662b0"/>
<polygon points="463.60,787.80 472.20,787.80 467.90,795.00" fill="#c0191c"/>
<text x="475.80" y="784.60" font-size="13.4" fill="#1a1a1a" font-weight="normal" text-anchor="start" >PFA</text>
<text x="475.80" y="795.20" font-size="13.4" fill="#1a1a1a" font-weight="normal" text-anchor="start" >RFA</text>
<defs><clipPath id="cb0"><rect x="515.5" y="58.5" width="80.00" height="84.00"/></clipPath><clipPath id="cb1"><rect x="603.5" y="58.5" width="80.00" height="84.00"/></clipPath><clipPath id="cb2"><rect x="515.5" y="149.5" width="80.00" height="84.00"/></clipPath><clipPath id="cb3"><rect x="603.5" y="149.5" width="80.00" height="84.00"/></clipPath><clipPath id="below1"><rect x="500" y="108.5" width="185" height="40"/></clipPath><clipPath id="below3"><rect x="500" y="200.5" width="185" height="40"/></clipPath></defs>
<path d="M534.1,108.5 A21.4,21.3 0 0 0 576.9,108.5 Z" fill="#0f5ca6"/>
<path d="M615.1,108.6 A23.2,22.4 0 0 0 661.5,108.6 Z" fill="#0f5ca6"/>
<path d="M547.2,200.4 C541,203 539.5,206 539.9,208.5 C540.5,213 547,220.6 555.4,220.6 C563,220.6 572.8,214 572.8,207.5 C572.8,203.5 570,201 567.9,200.4 Z" fill="#cc1518"/>
<path d="M629.2,200.4 C625,202.5 622.9,205 622.9,208 C622.9,213 629,218.7 637.1,218.7 C646,218.7 654.5,213 654.5,207 C654.5,203.5 652,201 649.5,200.4 Z" fill="#cc1518"/>
<line x1="515.5" y1="108.5" x2="595.5" y2="108.5" stroke="#a0a0a0" stroke-width="1"/>
<line x1="603.5" y1="108.5" x2="683.5" y2="108.5" stroke="#a0a0a0" stroke-width="1"/>
<line x1="515.5" y1="200.5" x2="595.5" y2="200.5" stroke="#a0a0a0" stroke-width="1"/>
<line x1="603.5" y1="200.5" x2="683.5" y2="200.5" stroke="#a0a0a0" stroke-width="1"/>
<g clip-path="url(#cb0)"><polygon points="559.55,98.10 559.55,48.30 551.75,48.30 551.75,98.10" fill="#0c9ae0" stroke="#6a6a6a" stroke-width="0.6"/><path d="M559.55,98.10 L559.55,108.30 A3.9,3.9 0 0 1 551.75,108.30 L551.75,98.10 Z" fill="#c4c4c4" stroke="#6a6a6a" stroke-width="0.6"/></g>
<g clip-path="url(#cb1)"><polygon points="647.93,106.98 691.06,82.08 687.16,75.32 644.03,100.22" fill="#0c9ae0" stroke="#6a6a6a" stroke-width="0.6"/><path d="M647.93,106.98 L639.10,112.08 A3.9,3.9 0 0 1 635.20,105.32 L644.03,100.22 Z" fill="#c4c4c4" stroke="#6a6a6a" stroke-width="0.6"/></g>
<g clip-path="url(#cb2)"><polygon points="559.55,189.90 559.55,140.10 551.75,140.10 551.75,189.90" fill="#0c9ae0" stroke="#6a6a6a" stroke-width="0.6"/><path d="M559.55,189.90 L559.55,200.10 A3.9,3.9 0 0 1 551.75,200.10 L551.75,189.90 Z" fill="#c4c4c4" stroke="#6a6a6a" stroke-width="0.6"/></g>
<g clip-path="url(#cb3)"><polygon points="647.93,198.98 691.06,174.08 687.16,167.32 644.03,192.22" fill="#0c9ae0" stroke="#6a6a6a" stroke-width="0.6"/><path d="M647.93,198.98 L639.10,204.08 A3.9,3.9 0 0 1 635.20,197.32 L644.03,192.22 Z" fill="#c4c4c4" stroke="#6a6a6a" stroke-width="0.6"/></g>
<rect x="515.5" y="58.5" width="80.00" height="84.00" rx="1.5" fill="none" stroke="#999" stroke-width="1" stroke-dasharray="1.4 1.4"/>
<rect x="603.5" y="58.5" width="80.00" height="84.00" rx="1.5" fill="none" stroke="#999" stroke-width="1" stroke-dasharray="1.4 1.4"/>
<rect x="515.5" y="149.5" width="80.00" height="84.00" rx="1.5" fill="none" stroke="#999" stroke-width="1" stroke-dasharray="1.4 1.4"/>
<rect x="603.5" y="149.5" width="80.00" height="84.00" rx="1.5" fill="none" stroke="#999" stroke-width="1" stroke-dasharray="1.4 1.4"/>
<text x="520.2" y="75.3" font-size="16" fill="#111" font-weight="bold" text-anchor="start" >1</text>
<text x="607.2" y="75.1" font-size="16" fill="#111" font-weight="bold" text-anchor="start" >2</text>
<text x="519.8" y="165.8" font-size="16" fill="#111" font-weight="bold" text-anchor="start" >3</text>
<text x="606.8" y="165.6" font-size="16" fill="#111" font-weight="bold" text-anchor="start" >4</text>
</svg></body></html>
